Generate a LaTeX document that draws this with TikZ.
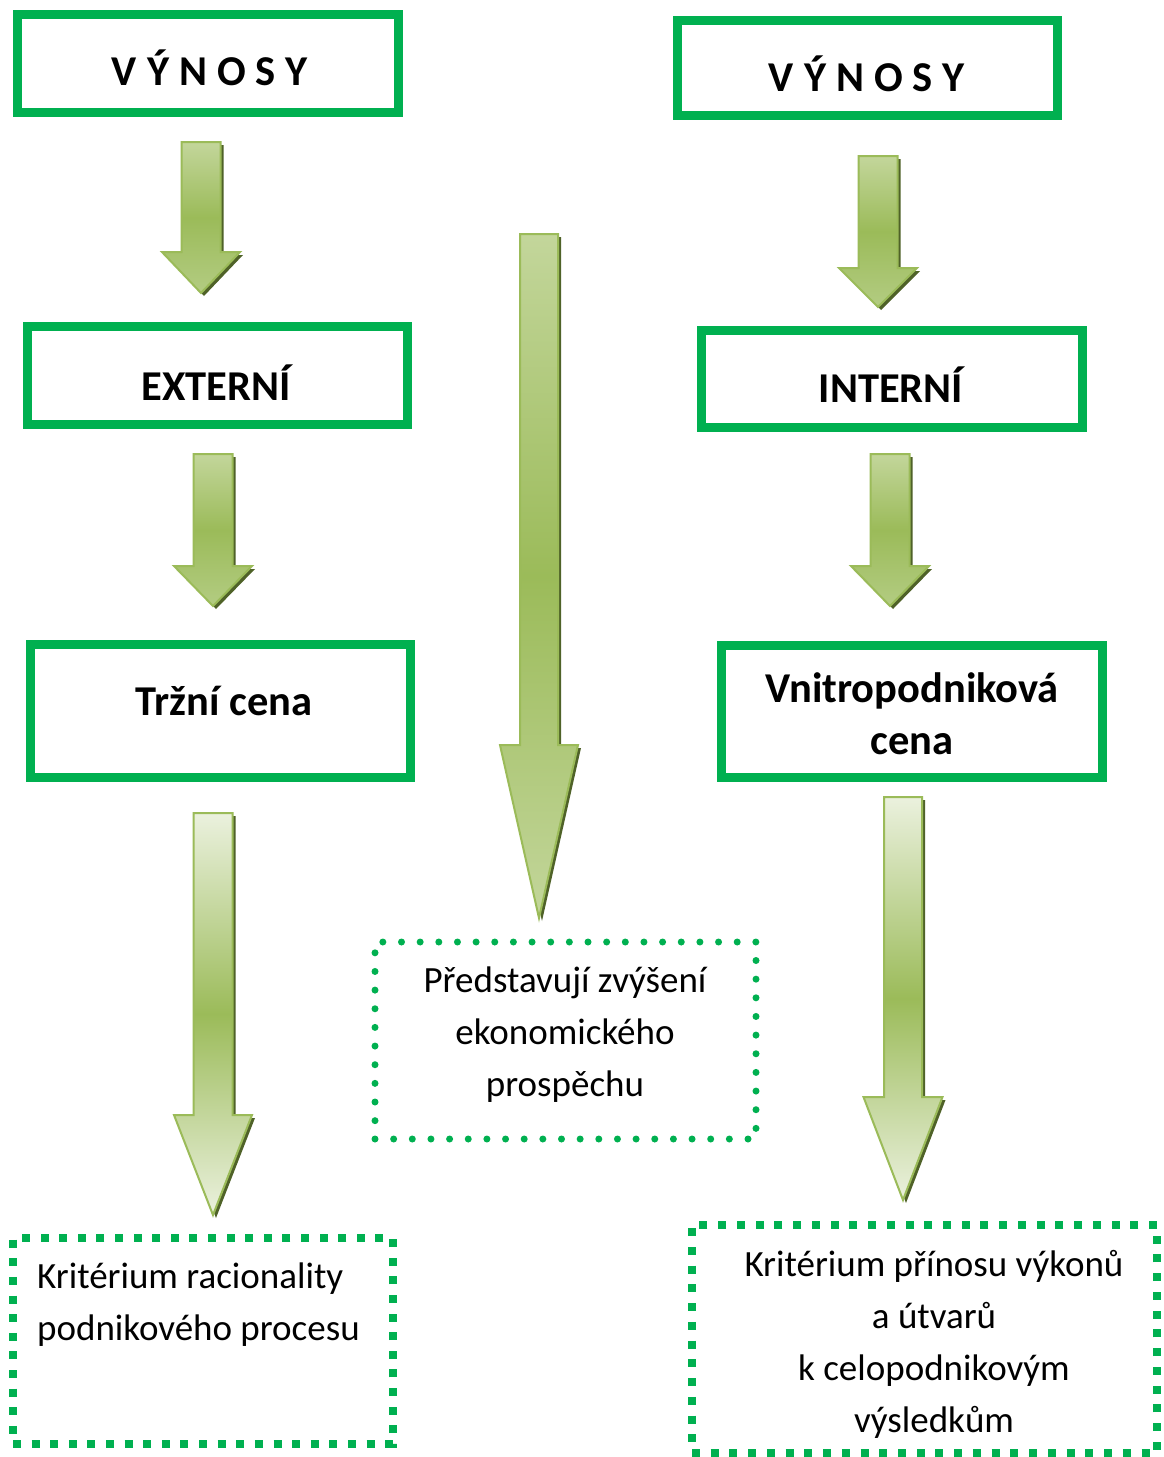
\documentclass[tikz,border=0pt]{standalone}
\usepackage{fontspec}
\setmainfont{Carlito}
\usetikzlibrary{calc}

\definecolor{boxgreen}{HTML}{00B050}
\definecolor{olivemid}{HTML}{9BBB59}
\definecolor{olivelight}{HTML}{C3D69B}
\definecolor{olivepale}{HTML}{EBF1DE}
\definecolor{olivesoft}{HTML}{B3CC82}
\definecolor{olivedark}{HTML}{4F6228}

% block arrow: centre x, top y, head-base y, tip y, half shaft, half head, shading style
\newcommand\blockarrow[7]{%
  \fill[olivedark] ({#1-#5+3},{#2+3}) -- ({#1+#5+3},{#2+3}) -- ({#1+#5+3},{#3+3})
    -- ({#1+#6+3},{#3+3}) -- ({#1+3},{#4+3}) -- ({#1-#6+3},{#3+3})
    -- ({#1-#5+3},{#3+3}) -- cycle;
  \draw[arrowedge,#7] ({#1-#5},#2) -- ({#1+#5},#2) -- ({#1+#5},#3)
    -- ({#1+#6},#3) -- (#1,#4) -- ({#1-#6},#3) -- ({#1-#5},#3) -- cycle;
}
% letter-spaced heading word
\newcommand\spacedword{V\hspace{10pt}Ý\hspace{10pt}N\hspace{10pt}O\hspace{10pt}S\hspace{10pt}Y}

\tikzset{
  solidbox/.style={draw=boxgreen, line width=9pt, inner sep=0pt, outer sep=0pt},
  roundbox/.style={draw=boxgreen, line width=7pt, line cap=round,
    dash pattern=on 0pt off 18.65pt, inner sep=0pt, outer sep=0pt},
  squarebox/.style={draw=boxgreen, line width=8pt, inner sep=0pt, outer sep=0pt},
  headtext/.style={font=\bfseries\fontsize{42.5}{52}\selectfont, inner sep=0pt, anchor=base},
  bodytext/.style={font=\fontsize{37}{52}\selectfont, inner sep=0pt, anchor=base},
  arrowedge/.style={draw=olivemid, line width=2pt, line join=miter},
  shortshade/.style={top color=olivelight, bottom color=olivesoft, middle color=olivemid},
  longshade/.style={top color=olivelight, bottom color=olivelight, middle color=olivemid},
  paleshade/.style={top color=olivepale, bottom color=olivepale, middle color=olivemid},
}

\begin{document}
\begin{tikzpicture}[x=1pt, y=-1pt]
  \fill[white] (0,0) rectangle (1163,1457);
  \useasboundingbox (0,0) rectangle (1163,1457);

  % framed headings
  \node[solidbox, minimum width=381, minimum height=98] (vynosL) at (208,63.5) {};
  \node[solidbox, minimum width=380, minimum height=95] (vynosR) at (867,67.5) {};
  \node[solidbox, minimum width=380, minimum height=98] (ext) at (217.5,375.5) {};
  \node[solidbox, minimum width=381, minimum height=97] (int) at (892,379) {};
  \node[solidbox, minimum width=380, minimum height=133] (trzni) at (220.5,711) {};
  \node[solidbox, minimum width=381, minimum height=132] (vnitro) at (912,711.5) {};

  \node[headtext] (tVynosL) at (210,85) {\spacedword};
  \node[headtext] (tVynosR) at (867,91) {\spacedword};
  \node[headtext] (tExt) at (216,400) {EXTERNÍ};
  \node[headtext] (tInt) at (891,402) {INTERNÍ};
  \node[headtext] (tTrzni) at (224,715) {Tržní cena};
  % multi-line texts are placed by the baseline of their last line
  \node[headtext, align=center] (tVnitro) at (912,754) {Vnitropodniková\\cena};

  % dotted result boxes
  \node[roundbox, minimum width=381, minimum height=197] (prospech) at (565.5,1040.5) {};
  \node[squarebox, dash pattern=on 8pt off 10.61pt,
        minimum width=380, minimum height=206] (racio) at (203,1341) {};
  \node[squarebox, dash pattern=on 8pt off 10.73pt,
        minimum width=465, minimum height=228] (prinos) at (924.5,1339) {};

  \node[bodytext, align=center] (tProspech) at (565,1096)
    {Představují zvýšení\\ekonomického\\prospěchu};
  \node[bodytext, align=left, anchor=base west] (tRacio) at (37,1340)
    {Kritérium racionality\\podnikového procesu};
  \node[bodytext, align=center] (tPrinos) at (934,1432)
    {Kritérium přínosu výkonů\\a útvarů\\k celopodnikovým\\výsledkům};

  % block arrows
  \blockarrow{201}{142}{252}{293}{19.5}{39}{shortshade}
  \blockarrow{213}{454}{566}{606}{19.5}{39}{shortshade}
  \blockarrow{878}{156}{268}{307}{19.5}{39}{shortshade}
  \blockarrow{890}{454}{566}{606}{19.5}{39}{shortshade}
  \blockarrow{539}{234}{745}{918}{19}{39}{longshade}
  \blockarrow{213}{813}{1115}{1215}{19.5}{39}{paleshade}
  \blockarrow{903}{797}{1097}{1200}{19}{39.5}{paleshade}
\end{tikzpicture}
\end{document}
